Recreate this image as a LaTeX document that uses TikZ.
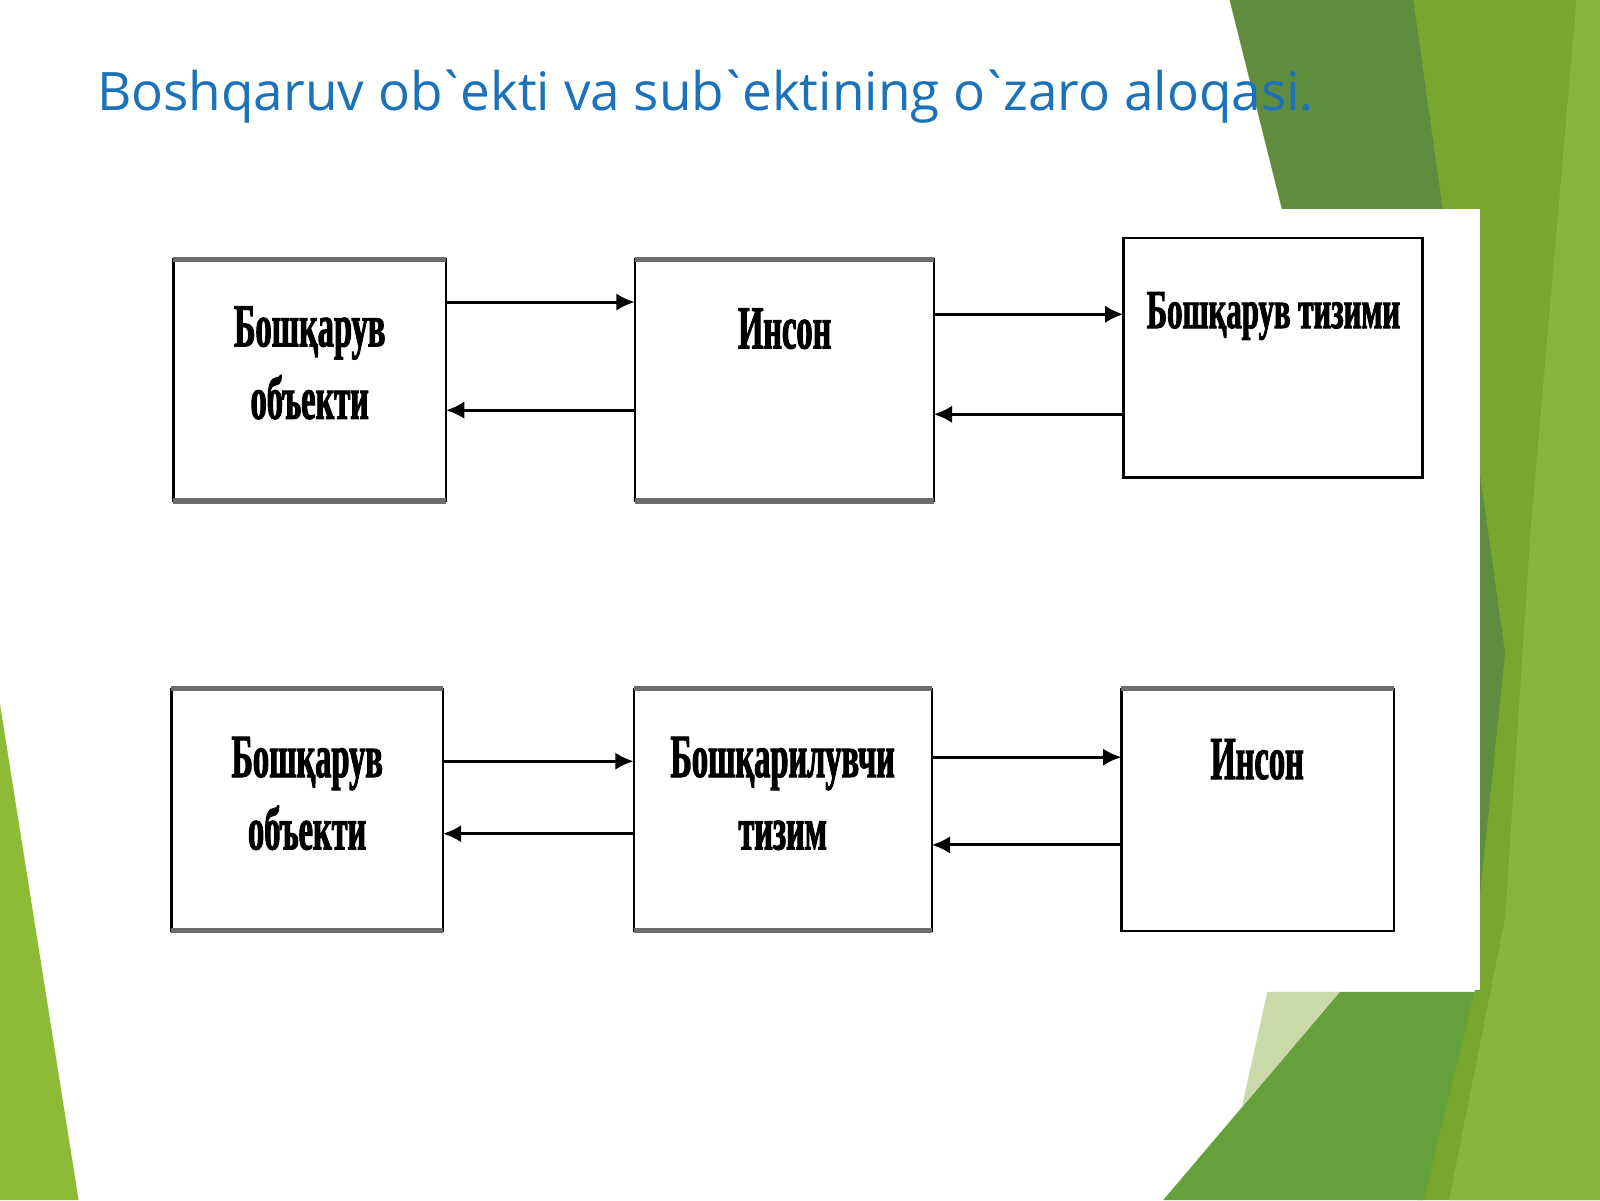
\documentclass[tikz,border=0pt]{standalone}
\usepackage{fontspec}
\usepackage{xcolor}
\usetikzlibrary{arrows.meta}
\setmainfont{Open Sans}
\newfontfamily\cyrfont[FakeStretch=0.53,FakeBold=1.6]{Liberation Serif}
\newfontfamily\cyrwide[FakeStretch=0.56,FakeBold=1.6]{Liberation Serif}

\definecolor{titleblue}{HTML}{1B72BA}
\definecolor{darkleaf}{HTML}{5E8D3F}
\definecolor{midleaf}{HTML}{79A72D}
\definecolor{lightleaf}{HTML}{8AB53B}
\definecolor{lowleaf}{HTML}{66A03B}
\definecolor{paleleaf}{HTML}{CAD9A8}
\definecolor{leftleaf}{HTML}{8DBB36}

\tikzset{
    box/.style={draw=black, line width=2.2pt, inner sep=0pt, outer sep=0pt},
    boxtext/.style={font=\cyrfont\bfseries\fontsize{60}{71}\selectfont, align=center, inner sep=0pt, anchor=north},
    rim/.style={draw=gray!85!black, line width=5pt},
    arr/.style={line width=3pt, -{Latex[length=18pt,width=17pt]}}
}

\begin{document}
\begin{tikzpicture}[x=1pt,y=-1pt]
    \useasboundingbox (0,0) rectangle (1568,1176);
    \fill[white] (0,0) rectangle (1568,1176);

    % green leaves of the slide
    \fill[leftleaf] (0,690) -- (77,1176) -- (0,1176) -- cycle;
    \fill[midleaf] (1370,0) -- (1568,0) -- (1568,1176) -- (1389,1176) -- (1445,972) -- (1445,205) -- (1400,205) -- cycle;
    \fill[lightleaf] (1545,0) -- (1568,0) -- (1568,1176) -- (1420,1176) -- (1475,900) -- (1500,520) -- cycle;
    \fill[darkleaf] (1205,0) -- (1385,0) -- (1475,640) -- (1450,880) -- (1310,420) -- cycle;
    \fill[lowleaf] (1313,972) -- (1445,972) -- (1395,1176) -- (1140,1176) -- cycle;
    \fill[paleleaf] (1242,972) -- (1313,972) -- (1217,1085) -- cycle;

    % white picture
    \fill[white] (150,205) rectangle (1450,970);

    \node[anchor=base west, inner sep=0pt, text=titleblue, font=\fontsize{52}{60}\selectfont] (title) at (95,108)
        {Boshqaruv ob\kern-.12em\textasciigrave\kern-.12em ekti va sub\kern-.12em\textasciigrave\kern-.12em ektining o\kern-.12em\textasciigrave\kern-.12em zaro aloqasi.};

    % first row
    \node[box, minimum width=267pt, minimum height=237pt] (obj1) at (303.5,372.5) {};
    \node[box, minimum width=293pt, minimum height=237pt] (man1) at (768.5,372.5) {};
    \node[box, minimum width=293pt, minimum height=235pt] (sys1) at (1247.5,350.5) {};
    \draw[rim] (obj1.north west) -- (obj1.north east);
    \draw[rim] (obj1.south west) -- (obj1.south east);
    \draw[rim] (man1.north west) -- (man1.north east);
    \draw[rim] (man1.south west) -- (man1.south east);

    \node[boxtext] (obj1text) at (303.5,300) {Бошқарув\\объекти};
    \node[boxtext] (man1text) at (769,302) {Инсон};
    \node[boxtext, font=\cyrwide\bfseries\fontsize{54}{64}\selectfont] (sys1text) at (1248,286) {Бошқарув тизими};

    \draw[arr] ([yshift=-42pt]obj1.north east) -- ([yshift=-42pt]man1.north west);
    \draw[arr] ([yshift=-148pt]man1.north west) -- ([yshift=-148pt]obj1.north east);
    \draw[arr] ([yshift=-54pt]man1.north east) -- ([yshift=-54pt]man1.north east -| sys1.west);
    \draw[arr] ([yshift=-152pt]man1.north east -| sys1.west) -- ([yshift=-152pt]man1.north east);

    % second row
    \node[box, minimum width=266pt, minimum height=237pt] (obj2) at (301,793.5) {};
    \node[box, minimum width=292pt, minimum height=237pt] (sys2) at (767,793.5) {};
    \node[box, minimum width=267pt, minimum height=237pt] (man2) at (1232.5,793.5) {};
    \draw[rim] (obj2.north west) -- (obj2.north east);
    \draw[rim] (obj2.south west) -- (obj2.south east);
    \draw[rim] (sys2.north west) -- (sys2.north east);
    \draw[rim] (sys2.south west) -- (sys2.south east);
    \draw[rim] (man2.north west) -- (man2.north east);

    \node[boxtext] (obj2text) at (301,722) {Бошқарув\\объекти};
    \node[boxtext] (sys2text) at (767,722) {Бошқарилувчи\\тизим};
    \node[boxtext] (man2text) at (1232,724) {Инсон};

    \draw[arr] ([yshift=-71pt]obj2.north east) -- ([yshift=-71pt]sys2.north west);
    \draw[arr] ([yshift=-142pt]sys2.north west) -- ([yshift=-142pt]obj2.north east);
    \draw[arr] ([yshift=-67pt]sys2.north east) -- ([yshift=-67pt]man2.north west);
    \draw[arr] ([yshift=-153pt]man2.north west) -- ([yshift=-153pt]sys2.north east);
\end{tikzpicture}
\end{document}
